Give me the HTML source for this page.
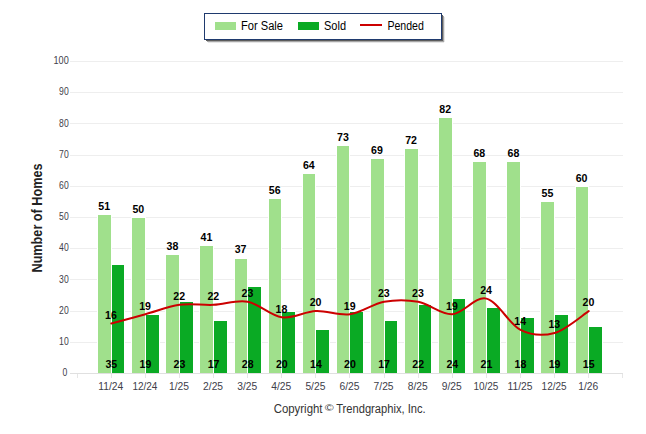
<!DOCTYPE html>
<html><head><meta charset="utf-8"><title>Number of Homes</title>
<style>html,body{margin:0;padding:0;background:#fff}svg{display:block}text{font-family:"Liberation Sans",Arial,sans-serif}</style></head><body>
<svg width="646" height="434" viewBox="0 0 646 434">
<rect width="646" height="434" fill="#fff"/>
<g shape-rendering="crispEdges">
<rect x="70" y="373" width="553" height="1" fill="#e0e0e0"/>
<rect x="70" y="342" width="553" height="1" fill="#eeeeee"/>
<rect x="70" y="311" width="553" height="1" fill="#eeeeee"/>
<rect x="70" y="279" width="553" height="1" fill="#eeeeee"/>
<rect x="70" y="248" width="553" height="1" fill="#eeeeee"/>
<rect x="70" y="217" width="553" height="1" fill="#eeeeee"/>
<rect x="70" y="186" width="553" height="1" fill="#eeeeee"/>
<rect x="70" y="155" width="553" height="1" fill="#eeeeee"/>
<rect x="70" y="123" width="553" height="1" fill="#eeeeee"/>
<rect x="70" y="92" width="553" height="1" fill="#eeeeee"/>
<rect x="70" y="61" width="553" height="1" fill="#eeeeee"/>
<rect x="77" y="374" width="1" height="4" fill="#e6e6e6"/>
<rect x="622" y="374" width="1" height="4" fill="#e6e6e6"/>
<rect x="111" y="374" width="1" height="4" fill="#e6e6e6"/>
<rect x="145" y="374" width="1" height="4" fill="#e6e6e6"/>
<rect x="179" y="374" width="1" height="4" fill="#e6e6e6"/>
<rect x="213" y="374" width="1" height="4" fill="#e6e6e6"/>
<rect x="247" y="374" width="1" height="4" fill="#e6e6e6"/>
<rect x="281" y="374" width="1" height="4" fill="#e6e6e6"/>
<rect x="315" y="374" width="1" height="4" fill="#e6e6e6"/>
<rect x="349" y="374" width="1" height="4" fill="#e6e6e6"/>
<rect x="384" y="374" width="1" height="4" fill="#e6e6e6"/>
<rect x="418" y="374" width="1" height="4" fill="#e6e6e6"/>
<rect x="452" y="374" width="1" height="4" fill="#e6e6e6"/>
<rect x="486" y="374" width="1" height="4" fill="#e6e6e6"/>
<rect x="520" y="374" width="1" height="4" fill="#e6e6e6"/>
<rect x="554" y="374" width="1" height="4" fill="#e6e6e6"/>
<rect x="588" y="374" width="1" height="4" fill="#e6e6e6"/>
<rect x="97" y="214" width="15" height="159" fill="#fff"/>
<rect x="98" y="215" width="13" height="158" fill="#a0e08c"/>
<rect x="111" y="264" width="14" height="109" fill="#fff"/>
<rect x="112" y="265" width="12" height="108" fill="#0aaa24"/>
<rect x="131" y="217" width="15" height="156" fill="#fff"/>
<rect x="132" y="218" width="13" height="155" fill="#a0e08c"/>
<rect x="145" y="314" width="15" height="59" fill="#fff"/>
<rect x="146" y="315" width="13" height="58" fill="#0aaa24"/>
<rect x="165" y="254" width="15" height="119" fill="#fff"/>
<rect x="166" y="255" width="13" height="118" fill="#a0e08c"/>
<rect x="179" y="301" width="15" height="72" fill="#fff"/>
<rect x="180" y="302" width="13" height="71" fill="#0aaa24"/>
<rect x="199" y="245" width="15" height="128" fill="#fff"/>
<rect x="200" y="246" width="13" height="127" fill="#a0e08c"/>
<rect x="213" y="320" width="15" height="53" fill="#fff"/>
<rect x="214" y="321" width="13" height="52" fill="#0aaa24"/>
<rect x="234" y="258" width="14" height="115" fill="#fff"/>
<rect x="235" y="259" width="12" height="114" fill="#a0e08c"/>
<rect x="247" y="286" width="15" height="87" fill="#fff"/>
<rect x="248" y="287" width="13" height="86" fill="#0aaa24"/>
<rect x="268" y="198" width="14" height="175" fill="#fff"/>
<rect x="269" y="199" width="12" height="174" fill="#a0e08c"/>
<rect x="281" y="311" width="15" height="62" fill="#fff"/>
<rect x="282" y="312" width="13" height="61" fill="#0aaa24"/>
<rect x="302" y="173" width="14" height="200" fill="#fff"/>
<rect x="303" y="174" width="12" height="199" fill="#a0e08c"/>
<rect x="315" y="329" width="15" height="44" fill="#fff"/>
<rect x="316" y="330" width="13" height="43" fill="#0aaa24"/>
<rect x="336" y="145" width="14" height="228" fill="#fff"/>
<rect x="337" y="146" width="12" height="227" fill="#a0e08c"/>
<rect x="349" y="311" width="15" height="62" fill="#fff"/>
<rect x="350" y="312" width="13" height="61" fill="#0aaa24"/>
<rect x="370" y="158" width="15" height="215" fill="#fff"/>
<rect x="371" y="159" width="13" height="214" fill="#a0e08c"/>
<rect x="384" y="320" width="14" height="53" fill="#fff"/>
<rect x="385" y="321" width="12" height="52" fill="#0aaa24"/>
<rect x="404" y="148" width="15" height="225" fill="#fff"/>
<rect x="405" y="149" width="13" height="224" fill="#a0e08c"/>
<rect x="418" y="304" width="14" height="69" fill="#fff"/>
<rect x="419" y="305" width="12" height="68" fill="#0aaa24"/>
<rect x="438" y="117" width="15" height="256" fill="#fff"/>
<rect x="439" y="118" width="13" height="255" fill="#a0e08c"/>
<rect x="452" y="298" width="14" height="75" fill="#fff"/>
<rect x="453" y="299" width="12" height="74" fill="#0aaa24"/>
<rect x="472" y="161" width="15" height="212" fill="#fff"/>
<rect x="473" y="162" width="13" height="211" fill="#a0e08c"/>
<rect x="486" y="307" width="15" height="66" fill="#fff"/>
<rect x="487" y="308" width="13" height="65" fill="#0aaa24"/>
<rect x="506" y="161" width="15" height="212" fill="#fff"/>
<rect x="507" y="162" width="13" height="211" fill="#a0e08c"/>
<rect x="520" y="317" width="15" height="56" fill="#fff"/>
<rect x="521" y="318" width="13" height="55" fill="#0aaa24"/>
<rect x="540" y="201" width="15" height="172" fill="#fff"/>
<rect x="541" y="202" width="13" height="171" fill="#a0e08c"/>
<rect x="554" y="314" width="15" height="59" fill="#fff"/>
<rect x="555" y="315" width="13" height="58" fill="#0aaa24"/>
<rect x="575" y="186" width="14" height="187" fill="#fff"/>
<rect x="576" y="187" width="12" height="186" fill="#a0e08c"/>
<rect x="588" y="326" width="15" height="47" fill="#fff"/>
<rect x="589" y="327" width="13" height="46" fill="#0aaa24"/>
</g>
<path d="M111.29 323.58 C116.97 322.02 134.02 317.34 145.39 314.22 C156.76 311.10 168.12 306.42 179.49 304.86 C190.86 303.30 202.22 305.38 213.59 304.86 C224.96 304.34 236.32 299.66 247.69 301.74 C259.06 303.82 270.42 315.78 281.79 317.34 C293.16 318.90 304.52 311.62 315.89 311.10 C327.26 310.58 338.62 315.78 349.99 314.22 C361.36 312.66 372.72 303.82 384.09 301.74 C395.46 299.66 406.82 299.66 418.19 301.74 C429.56 303.82 440.92 314.74 452.29 314.22 C463.66 313.70 475.02 296.02 486.39 298.62 C497.76 301.22 509.12 324.10 520.49 329.82 C531.86 335.54 543.22 336.06 554.59 332.94 C565.96 329.82 583.01 314.74 588.69 311.10" fill="none" stroke="#cc0000" stroke-width="2" stroke-linecap="round" stroke-linejoin="round"/>
<g font-size="11" font-weight="bold" fill="#000" text-anchor="middle">
<text x="104.2" y="210" textLength="11.8" lengthAdjust="spacingAndGlyphs">51</text>
<text x="138.3" y="213" textLength="11.8" lengthAdjust="spacingAndGlyphs">50</text>
<text x="172.4" y="250" textLength="11.8" lengthAdjust="spacingAndGlyphs">38</text>
<text x="206.5" y="241" textLength="11.8" lengthAdjust="spacingAndGlyphs">41</text>
<text x="240.6" y="253" textLength="11.8" lengthAdjust="spacingAndGlyphs">37</text>
<text x="274.7" y="194" textLength="11.8" lengthAdjust="spacingAndGlyphs">56</text>
<text x="308.8" y="169" textLength="11.8" lengthAdjust="spacingAndGlyphs">64</text>
<text x="342.9" y="141" textLength="11.8" lengthAdjust="spacingAndGlyphs">73</text>
<text x="377.0" y="154" textLength="11.8" lengthAdjust="spacingAndGlyphs">69</text>
<text x="411.1" y="144" textLength="11.8" lengthAdjust="spacingAndGlyphs">72</text>
<text x="445.2" y="113" textLength="11.8" lengthAdjust="spacingAndGlyphs">82</text>
<text x="479.3" y="157" textLength="11.8" lengthAdjust="spacingAndGlyphs">68</text>
<text x="513.4" y="157" textLength="11.8" lengthAdjust="spacingAndGlyphs">68</text>
<text x="547.5" y="197" textLength="11.8" lengthAdjust="spacingAndGlyphs">55</text>
<text x="581.6" y="182" textLength="11.8" lengthAdjust="spacingAndGlyphs">60</text>
<text x="111.3" y="368" textLength="11.8" lengthAdjust="spacingAndGlyphs">35</text>
<text x="145.4" y="368" textLength="11.8" lengthAdjust="spacingAndGlyphs">19</text>
<text x="179.5" y="368" textLength="11.8" lengthAdjust="spacingAndGlyphs">23</text>
<text x="213.6" y="368" textLength="11.8" lengthAdjust="spacingAndGlyphs">17</text>
<text x="247.7" y="368" textLength="11.8" lengthAdjust="spacingAndGlyphs">28</text>
<text x="281.8" y="368" textLength="11.8" lengthAdjust="spacingAndGlyphs">20</text>
<text x="315.9" y="368" textLength="11.8" lengthAdjust="spacingAndGlyphs">14</text>
<text x="350.0" y="368" textLength="11.8" lengthAdjust="spacingAndGlyphs">20</text>
<text x="384.1" y="368" textLength="11.8" lengthAdjust="spacingAndGlyphs">17</text>
<text x="418.2" y="368" textLength="11.8" lengthAdjust="spacingAndGlyphs">22</text>
<text x="452.3" y="368" textLength="11.8" lengthAdjust="spacingAndGlyphs">24</text>
<text x="486.4" y="368" textLength="11.8" lengthAdjust="spacingAndGlyphs">21</text>
<text x="520.5" y="368" textLength="11.8" lengthAdjust="spacingAndGlyphs">18</text>
<text x="554.6" y="368" textLength="11.8" lengthAdjust="spacingAndGlyphs">19</text>
<text x="588.7" y="368" textLength="11.8" lengthAdjust="spacingAndGlyphs">15</text>
<text x="111.0" y="319" textLength="11.8" lengthAdjust="spacingAndGlyphs">16</text>
<text x="145.1" y="310" textLength="11.8" lengthAdjust="spacingAndGlyphs">19</text>
<text x="179.2" y="300" textLength="11.8" lengthAdjust="spacingAndGlyphs">22</text>
<text x="213.3" y="300" textLength="11.8" lengthAdjust="spacingAndGlyphs">22</text>
<text x="247.4" y="297" textLength="11.8" lengthAdjust="spacingAndGlyphs">23</text>
<text x="281.5" y="313" textLength="11.8" lengthAdjust="spacingAndGlyphs">18</text>
<text x="315.6" y="306" textLength="11.8" lengthAdjust="spacingAndGlyphs">20</text>
<text x="349.7" y="310" textLength="11.8" lengthAdjust="spacingAndGlyphs">19</text>
<text x="383.8" y="297" textLength="11.8" lengthAdjust="spacingAndGlyphs">23</text>
<text x="417.9" y="297" textLength="11.8" lengthAdjust="spacingAndGlyphs">23</text>
<text x="452.0" y="310" textLength="11.8" lengthAdjust="spacingAndGlyphs">19</text>
<text x="486.1" y="294" textLength="11.8" lengthAdjust="spacingAndGlyphs">24</text>
<text x="520.2" y="325" textLength="11.8" lengthAdjust="spacingAndGlyphs">14</text>
<text x="554.3" y="328" textLength="11.8" lengthAdjust="spacingAndGlyphs">13</text>
<text x="588.4" y="306" textLength="11.8" lengthAdjust="spacingAndGlyphs">20</text>
</g>
<g font-size="11" fill="#40404a" text-anchor="end">
<text x="67.4" y="376" textLength="4.8" lengthAdjust="spacingAndGlyphs">0</text>
<text x="68.7" y="345" textLength="9.6" lengthAdjust="spacingAndGlyphs">10</text>
<text x="68.7" y="314" textLength="9.6" lengthAdjust="spacingAndGlyphs">20</text>
<text x="68.7" y="283" textLength="9.6" lengthAdjust="spacingAndGlyphs">30</text>
<text x="68.7" y="251" textLength="9.6" lengthAdjust="spacingAndGlyphs">40</text>
<text x="68.7" y="220" textLength="9.6" lengthAdjust="spacingAndGlyphs">50</text>
<text x="68.7" y="189" textLength="9.6" lengthAdjust="spacingAndGlyphs">60</text>
<text x="68.7" y="158" textLength="9.6" lengthAdjust="spacingAndGlyphs">70</text>
<text x="68.7" y="127" textLength="9.6" lengthAdjust="spacingAndGlyphs">80</text>
<text x="68.7" y="95" textLength="9.6" lengthAdjust="spacingAndGlyphs">90</text>
<text x="68.7" y="64" textLength="15.2" lengthAdjust="spacingAndGlyphs">100</text>
</g>
<g font-size="11" fill="#40404a" text-anchor="middle">
<text x="110.8" y="390" textLength="25.0" lengthAdjust="spacingAndGlyphs">11/24</text>
<text x="144.9" y="390" textLength="25.0" lengthAdjust="spacingAndGlyphs">12/24</text>
<text x="179.0" y="390" textLength="20.0" lengthAdjust="spacingAndGlyphs">1/25</text>
<text x="213.1" y="390" textLength="20.0" lengthAdjust="spacingAndGlyphs">2/25</text>
<text x="247.2" y="390" textLength="20.0" lengthAdjust="spacingAndGlyphs">3/25</text>
<text x="281.3" y="390" textLength="20.0" lengthAdjust="spacingAndGlyphs">4/25</text>
<text x="315.4" y="390" textLength="20.0" lengthAdjust="spacingAndGlyphs">5/25</text>
<text x="349.5" y="390" textLength="20.0" lengthAdjust="spacingAndGlyphs">6/25</text>
<text x="383.6" y="390" textLength="20.0" lengthAdjust="spacingAndGlyphs">7/25</text>
<text x="417.7" y="390" textLength="20.0" lengthAdjust="spacingAndGlyphs">8/25</text>
<text x="451.8" y="390" textLength="20.0" lengthAdjust="spacingAndGlyphs">9/25</text>
<text x="485.9" y="390" textLength="25.0" lengthAdjust="spacingAndGlyphs">10/25</text>
<text x="520.0" y="390" textLength="25.0" lengthAdjust="spacingAndGlyphs">11/25</text>
<text x="554.1" y="390" textLength="25.0" lengthAdjust="spacingAndGlyphs">12/25</text>
<text x="588.2" y="390" textLength="20.0" lengthAdjust="spacingAndGlyphs">1/26</text>
</g>
<text transform="translate(41.6 218) rotate(-90)" font-size="14" font-weight="bold" fill="#222" text-anchor="middle" textLength="109" lengthAdjust="spacingAndGlyphs">Number of Homes</text>
<g fill="#333">
<text x="273.7" y="413" font-size="12" textLength="48.8" lengthAdjust="spacingAndGlyphs">Copyright</text>
<text x="324.8" y="411" font-size="9.5" textLength="9" lengthAdjust="spacingAndGlyphs">©</text>
<text x="336.2" y="413" font-size="12" textLength="89.5" lengthAdjust="spacingAndGlyphs">Trendgraphix, Inc.</text>
</g>
<g shape-rendering="crispEdges">
<rect x="442" y="15" width="1" height="26" fill="#5c5c5c"/>
<rect x="443" y="16" width="1" height="26" fill="#a6a6a6"/>
<rect x="444" y="17" width="1" height="25" fill="#e6e6e6"/>
<rect x="206" y="40" width="236" height="1" fill="#5c5c5c"/>
<rect x="207" y="41" width="236" height="1" fill="#a6a6a6"/>
<rect x="208" y="42" width="236" height="1" fill="#e6e6e6"/>
<rect x="204.5" y="13.5" width="237" height="26" fill="#fff" stroke="#1f3a6e" stroke-width="1"/>
<rect x="215" y="22" width="21" height="8" fill="#a0e08c"/>
<rect x="298" y="22" width="21" height="8" fill="#0aaa24"/>
<rect x="360" y="24" width="22" height="2" fill="#cc0000"/>
</g>
<g font-size="12" fill="#000"><text x="241" y="30" textLength="42" lengthAdjust="spacingAndGlyphs">For Sale</text><text x="324" y="30" textLength="22" lengthAdjust="spacingAndGlyphs">Sold</text><text x="387.4" y="30" textLength="36.5" lengthAdjust="spacingAndGlyphs">Pended</text></g>
</svg></body></html>
